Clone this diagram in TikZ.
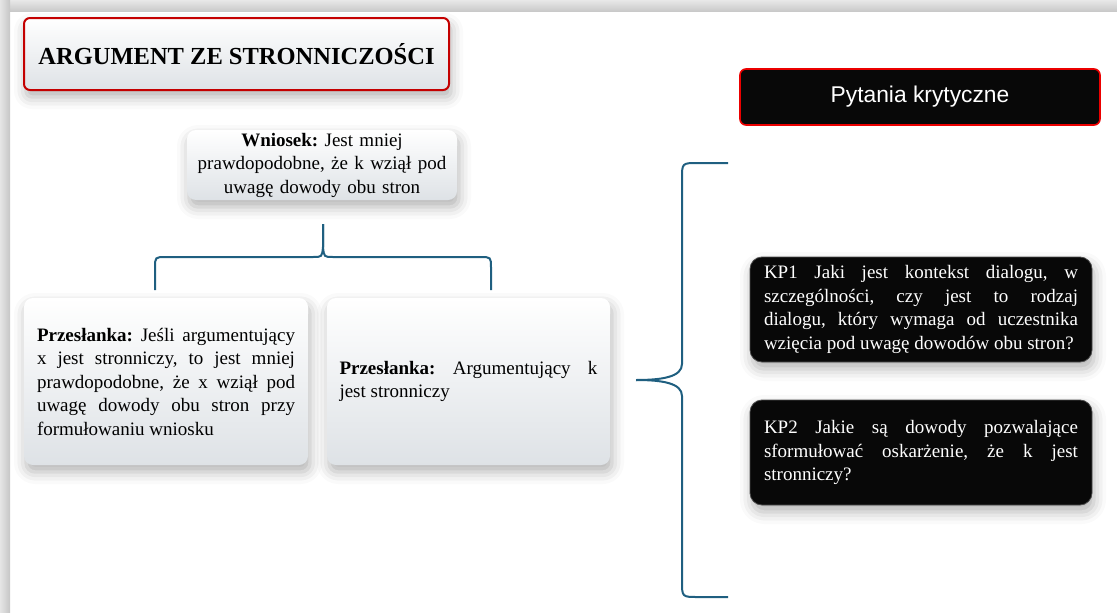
\documentclass[tikz,border=0pt]{standalone}
\usepackage{fontspec}
\setmainfont{Liberation Serif}
\newfontfamily\pytfont{Liberation Sans}
\usetikzlibrary{shadows.blur}
\definecolor{bracecol}{RGB}{31,95,128}
\definecolor{boxend}{RGB}{222,226,230}
\definecolor{titlered}{RGB}{196,0,0}
\definecolor{pytred}{RGB}{235,0,0}
\definecolor{kpblack}{RGB}{8,8,8}
\begin{document}
\frenchspacing
\begin{tikzpicture}[x=1pt,y=-1pt,
  body/.style={font=\fontsize{19}{23.5}\selectfont, execute at begin node={\frenchspacing\hyphenpenalty=10000\exhyphenpenalty=10000\tolerance=9999}},
  softshadow/.style={blur shadow={shadow xshift=2pt, shadow yshift=-7pt, shadow blur radius=12pt, shadow opacity=30}},
  lightbox/.style={body, rounded corners=9pt, top color=white, bottom color=boxend, softshadow, inner sep=0pt},
  titlebox/.style={rounded corners=6pt, draw=titlered, line width=2pt, top color=white, bottom color=boxend, softshadow,
    font=\fontsize{24.5}{28}\selectfont\bfseries, minimum width=425pt, minimum height=72pt},
  pytbox/.style={rounded corners=6pt, draw=pytred, line width=1.6pt, fill=kpblack, text=white,
    font=\pytfont\fontsize{22.8}{27}\selectfont, minimum width=360pt, minimum height=56pt},
  kpbox/.style={body, rounded corners=12pt, draw=gray!60!black, line width=0.8pt, fill=kpblack, text=white,
    softshadow, minimum width=342pt, minimum height=105pt, text width=314pt, align=justify, inner sep=0pt},
  bracestyle/.style={draw=bracecol, line width=2pt}
]
\useasboundingbox (0,0) rectangle (1117,613);
% slide frame
\shade[top color=gray!18, bottom color=gray!42] (0,0) rectangle (1117,11);
\shade[left color=gray!20, right color=gray!45] (0,0) rectangle (10,613);

% title
\node[titlebox] (title) at (236.5,54) {ARGUMENT ZE STRONNICZOŚCI};

% conclusion
\node[lightbox, minimum width=270pt, minimum height=70pt, text width=262pt, align=center] (wniosek) at (322,165)
  {\textbf{Wniosek:} Jest mniej\\ prawdopodobne, że k wziął pod\\ uwagę dowody obu stron};

% premises
\node[lightbox, minimum width=284pt, minimum height=167pt, text width=258pt, align=justify] (p1) at (166,381.5)
  {\fontsize{19}{24.2}\selectfont\textbf{Przesłanka:} Jeśli argumentujący\linebreak x jest stronniczy, to jest mniej\linebreak prawdopodobne, że x wziął pod\linebreak uwagę dowody obu stron przy\linebreak formułowaniu wniosku};
\node[lightbox, minimum width=283pt, minimum height=167pt, text width=258pt, align=justify] (p2) at (468.5,381.5)
  {\fontsize{19}{24.2}\selectfont\textbf{Przesłanka:} Argumentujący k\linebreak jest stronniczy};

% critical questions
\node[pytbox] (pyt) at (920,97) {Pytania krytyczne};
\node[kpbox] (kp1) at (921,309.5)
  {KP1 Jaki jest kontekst dialogu, w\linebreak szczególności, czy jest to rodzaj\linebreak dialogu, który wymaga od uczestnika\linebreak wzięcia pod uwagę dowodów obu stron?};
\node[kpbox] (kp2) at (921,452.5)
  {KP2 Jakie są dowody pozwalające\linebreak sformułować oskarżenie, że k jest\linebreak stronniczy?};

% brace joining the premises to the conclusion
\coordinate (hbL) at (155,290);
\coordinate (hbR) at (491,290);
\coordinate (hbT) at (323,224);
\draw[bracestyle] (hbL) -- (155,268) .. controls (155,257) .. (166,257) -- (313,257)
  .. controls (322,257) .. (323,247) -- (hbT);
\draw[bracestyle] (hbT) -- (323,247) .. controls (324,257) .. (333,257) -- (480,257)
  .. controls (491,257) .. (491,268) -- (hbR);

% big brace towards the critical questions
\coordinate (bbTop) at (728,163);
\coordinate (bbBot) at (728,597);
\coordinate (bbTip) at (636,380);
\draw[bracestyle] (bbTop) -- (698,163) .. controls (682,163) .. (682,179) -- (682,364)
  .. controls (682,377) and (662,380) .. (bbTip);
\draw[bracestyle] (bbTip) .. controls (662,380) and (682,383) .. (682,396) -- (682,581)
  .. controls (682,597) .. (698,597) -- (bbBot);
\end{tikzpicture}
\end{document}
